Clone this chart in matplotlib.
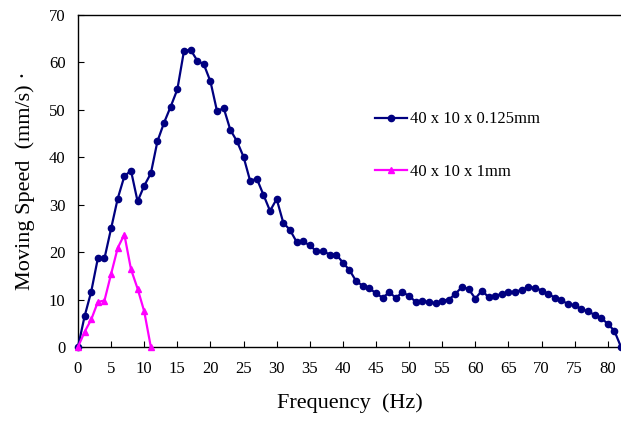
import matplotlib
matplotlib.use("Agg")
import matplotlib.pyplot as plt
import numpy as np

freq_thin = list(range(0, 83))
speed_thin = [0, 6.5, 11.7, 18.7, 18.7, 25.0, 31.3, 36.0, 37.2, 30.7,
              34.0, 36.6, 43.4, 47.3, 50.7, 54.3, 62.4, 62.7, 60.4, 59.6,
              56.0, 49.7, 50.4, 45.8, 43.4, 40.1, 35.0, 35.5, 32.1, 28.7,
              31.2, 26.2, 24.7, 22.2, 22.3, 21.4, 20.2, 20.2, 19.5, 19.5,
              17.8, 16.2, 13.9, 12.9, 12.4, 11.3, 10.4, 11.5, 10.4, 11.5,
              10.8, 9.5, 9.7, 9.5, 9.2, 9.8, 10.0, 11.2, 12.7, 12.2,
              10.2, 11.9, 10.5, 10.8, 11.2, 11.5, 11.7, 12.0, 12.6, 12.5,
              11.9, 11.2, 10.4, 9.9, 9.0, 8.8, 8.0, 7.5, 6.8, 6.1,
              4.9, 3.4, 0]
freq_thick = list(range(0, 12))
speed_thick = [0, 3.2, 5.8, 9.5, 9.8, 15.4, 20.9, 23.7, 16.4, 12.3, 7.5, 0]
labels = ["40 x 10 x 0.125mm", "40 x 10 x 1mm"]

plt.rcParams['font.family'] = ['Liberation Serif', 'DejaVu Serif']

fig = plt.figure(figsize=(6.21, 4.23), dpi=100)
ax = fig.add_axes([0.1256, 0.1797, 0.8744, 0.7848])

ax.plot(freq_thin, speed_thin, color='#000080', marker='o', markersize=4.5,
        linewidth=1.6, label=labels[0], clip_on=False, zorder=3)
ax.plot(freq_thick, speed_thick, color='#FF00FF', marker='^', markersize=5,
        linewidth=1.6, label=labels[1], clip_on=False, zorder=3)

ax.set_xlim(0, 82)
ax.set_ylim(0, 70)
ax.set_xticks(np.arange(0, 81, 5))
ax.set_yticks(np.arange(0, 71, 10))
ax.tick_params(direction='in', length=4, width=0.8, labelsize=12, pad=10)
ax.tick_params(axis='y', pad=9)
for s in ax.spines.values():
    s.set_linewidth(1.0)
ax.spines['right'].set_visible(False)

ax.set_xlabel("Frequency  (Hz)", fontsize=16, labelpad=12)
ax.set_ylabel("Moving Speed  (mm/s) \u00b7", fontsize=16, labelpad=10)

ax.legend(loc='upper left', bbox_to_anchor=(0.52, 0.755), frameon=False,
          fontsize=12, labelspacing=2.2, handlelength=1.9, handletextpad=0.2)

fig.savefig("out.png", dpi=100)
